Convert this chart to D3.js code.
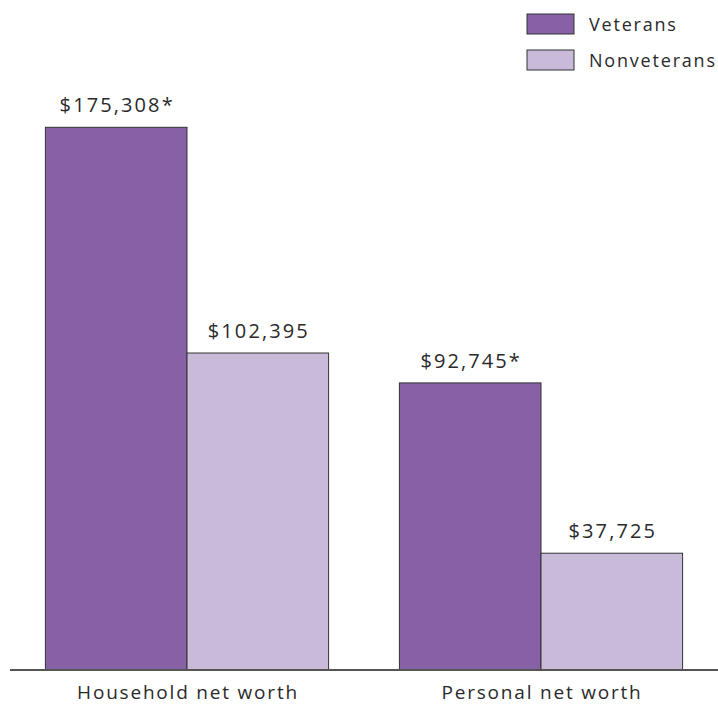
<!DOCTYPE html>
<html>
<head>
<meta charset="utf-8">
<script src="https://cdn.jsdelivr.net/npm/d3@7"></script>
<style>
  html, body { margin: 0; padding: 0; background: #fff; }
  svg text { font-family: "Open Sans", "Noto Sans", sans-serif; fill: #2a2a2a; letter-spacing: 1.8px; }
  svg text.value { letter-spacing: 2.1px; }
</style>
</head>
<body>
<svg id="chart" width="718" height="706"></svg>
<script>
// Median net worth by veteran status
const categories = ["Household net worth", "Personal net worth"];
const seriesNames = ["Veterans", "Nonveterans"];
const veterans = [175308, 92745];
const nonveterans = [102395, 37725];
const valueLabels = [["$175,308*", "$102,395"], ["$92,745*", "$37,725"]];
const colors = ["#8761a5", "#c9bad9"];

const svg = d3.select("#chart");
const baseline = 670;

const x0 = d3.scaleBand().domain(categories).range([10, 718])
  .paddingInner(0.2).paddingOuter(0.1);
const x1 = d3.scaleBand().domain(seriesNames).range([0, x0.bandwidth()]);
const y = d3.scaleLinear().domain([0, 175308]).range([baseline, 127.3]);

const rows = categories.map((c, i) => ({
  category: c,
  values: [
    { series: "Veterans", value: veterans[i], label: valueLabels[i][0] },
    { series: "Nonveterans", value: nonveterans[i], label: valueLabels[i][1] }
  ]
}));

const groups = svg.selectAll("g.group").data(rows).join("g")
  .attr("class", "group")
  .attr("transform", d => `translate(${x0(d.category)},0)`);

groups.selectAll("rect").data(d => d.values).join("rect")
  .attr("x", d => x1(d.series))
  .attr("y", d => y(d.value))
  .attr("width", x1.bandwidth())
  .attr("height", d => baseline - y(d.value))
  .attr("fill", (d, i) => colors[i])
  .attr("stroke", "#333")
  .attr("stroke-width", 1);

groups.selectAll("text.value").data(d => d.values).join("text")
  .attr("class", "value")
  .attr("x", d => x1(d.series) + x1.bandwidth() / 2 + 1)
  .attr("y", d => y(d.value) - 15)
  .attr("text-anchor", "middle")
  .attr("font-size", 20)
  .text(d => d.label);

// Baseline axis with category labels
const axis = svg.append("g").attr("transform", `translate(0,${baseline})`)
  .call(d3.axisBottom(x0).tickSize(0).tickPadding(16));
axis.select(".domain").attr("d", "M10,0H718").attr("stroke", "#555").attr("stroke-width", 2);
axis.selectAll(".tick text")
  .attr("font-size", 19)
  .attr("dx", 1)
  .attr("fill", "#2a2a2a")
  .style("font-family", "'Open Sans', 'Noto Sans', sans-serif");

// Legend
const legend = svg.append("g").attr("transform", "translate(527,14)");
seriesNames.forEach((name, i) => {
  const g = legend.append("g").attr("transform", `translate(0,${i * 36})`);
  g.append("rect").attr("width", 47).attr("height", 20)
    .attr("fill", colors[i]).attr("stroke", "#333").attr("stroke-width", 1);
  g.append("text").attr("x", 62).attr("y", 17).attr("font-size", 18).text(name);
});
</script>
</body>
</html>
